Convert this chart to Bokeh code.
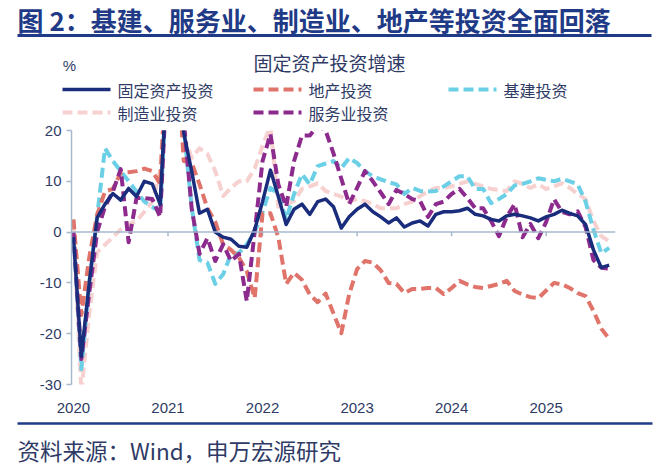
from bokeh.plotting import figure
from bokeh.layouts import column
from bokeh.models import Range1d, FixedTicker, Span
from bokeh.core.properties import value
from bokeh.embed import file_html
from bokeh.resources import INLINE

# Monthly YoY growth (%), Jan 2020 - Sep 2025
YEARS = ["2020", "2021", "2022", "2023", "2024", "2025"]
Y_TICKS = [-30, -20, -10, 0, 10, 20]

fai = [-1, -24.5, -10, 2.8, 5.5, 7.6, 6.3, 8.6, 7, 10, 9.5, 5.5,
       35, 35, 19.5, 12, 3.7, 4.5, 0, -1, -1.4, -2.8, -3, 0.5,
       6, 12.2, 7, 1.5, 4.5, 5.5, 3.5, 6, 6.5, 5, 0.8, 3,
       4.5, 5.5, 4, 3, 1.8, 2.8, 1, 1.8, 2.2, 1.2, 3.5, 4,
       4, 4.2, 4.7, 3.5, 3.2, 2.5, 2.2, 3.2, 3.5, 3.2, 2.8, 2.2,
       3, 3.5, 4.3, 3.7, 3.2, 1.5, -3.5, -7, -6.5]

real_estate = [2.5, -16.3, -5, 3.4, 8, 8.5, 11.7, 11.8, 12, 12.5, 12, 9.5,
               38.3, 38.3, 14, 13.7, 9.4, 4.7, 2, -2.4, -3.5, -5, -7.7, -13,
               3.7, 3.7, -1, -10.2, -8, -9.4, -12.3, -13.8, -12.1, -16, -19.9, -12.2,
               -7.3, -5.7, -6, -7.5, -10, -10.2, -12, -11.2, -11.2, -11, -11, -12.2,
               -11, -9.6, -10.3, -10.8, -11, -10.6, -10.2, -9.6, -11.6, -12.3, -12.8, -13,
               -11.5, -10, -10.3, -11, -12, -12.6, -15.5, -19, -21]

infra = [0, -27, -10, 3, 16.5, 14, 12, 10, 8, 6, 5, 4,
         35, 35, 20.5, 5, -5.5, -6, -10.2, -8.3, -4.3, -4.1, -2.4, 0,
         4, 8.7, 7.5, 2.5, 7.5, 11.4, 9.4, 13, 13.5, 14, 12.6, 14.6,
         13.6, 12, 11, 10.4, 9.8, 9.4, 7.5, 8.7, 8.1, 8, 8.1, 9,
         10, 11, 11, 8.5, 8.5, 5.7, 6.5, 7.5, 9.2, 9.5, 10, 10.6,
         10.3, 10, 10.5, 10, 9.4, 6, 0.5, -4.2, -3.1]

manufacturing = [1, -31.5, -16, -4, -2.5, -1, 0.5, 1.5, 2.2, 4, 6, 12,
                 36, 36, 19, 14.6, 16.5, 15.4, 12, 7.1, 8.7, 10, 10, 12.5,
                 17, 20.9, 5, 5.5, 6.1, 8.5, 9, 9.6, 8.1, 7.5, 7, 6,
                 6.5, 6.1, 5.5, 4.7, 4.7, 4.7, 5.5, 6, 7.1, 8, 8.7, 8.7,
                 9, 9.5, 10, 9.5, 9, 8.5, 8.3, 8.1, 10, 9.5, 8.7, 9.4,
                 8.5, 9, 9.6, 8.7, 7.5, 6.5, 2.2, -0.8, -1.8]

services = [0, -25, -12, 0, 5, 8, 12.4, -2, 6.7, 6.7, 6.5, 3,
            35, 35, 22, 4.7, -4.3, -1.2, -5.7, -2.4, -5.7, -4.3, -13.6, 0,
            14, 19.3, 9.4, 5, 14, 19, 19, 21, 20, 15.5, 10.5, 5.5,
            8.7, 12, 10, 7.8, 5.5, 8.3, 7.5, 6.5, 6.1, 3, 5.5, 6,
            7.5, 8.5, 6.7, 4.7, 4.7, 2.2, -0.8, 3, 5.5, -1, 1.6, -1.2,
            2, 6.5, 4, 3.5, 4.1, 1, -5.5, -7, -7.2]

SERIES = [  # (label, values, colour, width, dash)
    ("固定资产投资", fai, "#1A2C7C", 3.5, "solid"),
    ("地产投资", real_estate, "#E0736A", 4, "10 5"),
    ("基建投资", infra, "#6BCFE6", 4, "10 5"),
    ("制造业投资", manufacturing, "#F7D0D0", 4, "10 5"),
    ("服务业投资", services, "#8C2A8D", 4, "10 5"),
]
DRAW_ORDER = ["制造业投资", "基建投资", "地产投资", "服务业投资", "固定资产投资"]

months = list(range(len(fai)))
year_ticks = [12 * k for k in range(len(YEARS))]

AXIS = "#A7B9CC"
TEXT = "#2F3B66"
NAVY_TITLE = "#1F3A86"
CJK = "Noto Sans CJK SC"
W = 660


def blank(height):
    f = figure(width=W, height=height, output_backend="svg", toolbar_location=None,
               x_range=Range1d(0, W), y_range=Range1d(height, 0),
               x_axis_type=None, y_axis_type=None, min_border=0, frame_align=False)
    f.outline_line_color = None
    f.border_fill_color = "white"
    f.background_fill_color = "white"
    return f


# ---- header: figure title, rule, chart title, unit and key ----
head = blank(123)
head.text(x=[17], y=[19], text=["图 2：基建、服务业、制造业、地产等投资全面回落"],
          text_font=value(CJK), text_font_size="26px", text_font_style="bold",
          text_color=NAVY_TITLE, text_baseline="middle")
head.segment(x0=[17], y0=[35], x1=[651], y1=[35], line_color=NAVY_TITLE, line_width=3)
head.text(x=[329], y=[62], text=["固定资产投资增速"], text_font=value(CJK),
          text_font_size="19px", text_color=TEXT, text_align="center",
          text_baseline="middle")
head.text(x=[69], y=[65], text=["%"], text_font=value("Liberation Sans"),
          text_font_size="15px", text_color=TEXT, text_align="center",
          text_baseline="middle")

# key: three columns, two rows
KEY_COLS = [62, 253, 448]
KEY_ROWS = [89, 112]
for k, (name, _, col, w, d) in enumerate(SERIES):
    kx = KEY_COLS[k % 3]
    ky = KEY_ROWS[k // 3]
    head.segment(x0=[kx], y0=[ky], x1=[kx + 48], y1=[ky], line_color=col,
                 line_width=w, line_dash=d)
    head.text(x=[kx + 55], y=[ky], text=[name], text_font=value(CJK),
              text_font_size="16px", text_color=TEXT, text_baseline="middle")

# ---- chart ----
p = figure(width=W, height=295, output_backend="svg", toolbar_location=None,
           x_range=Range1d(-0.25, 68.8), y_range=Range1d(-30, 20),
           min_border_left=71, min_border_right=45,
           min_border_top=7, min_border_bottom=34, frame_align=False)
p.outline_line_color = None
p.xgrid.visible = False
p.ygrid.visible = False
p.border_fill_color = "white"

xa = p.xaxis[0]
xa.ticker = FixedTicker(ticks=year_ticks)
xa.major_label_overrides = {t: y for t, y in zip(year_ticks, YEARS)}
xa.axis_line_color = None
xa.major_tick_line_color = None
xa.minor_tick_line_color = None
xa.major_label_standoff = 12
xa.major_label_text_font = "Liberation Sans"
xa.major_label_text_font_size = "15px"
xa.major_label_text_color = TEXT

ya = p.yaxis[0]
ya.ticker = FixedTicker(ticks=Y_TICKS)
ya.major_label_overrides = {t: str(t) for t in Y_TICKS}
ya.axis_line_color = AXIS
ya.axis_line_width = 1.5
ya.major_tick_line_color = AXIS
ya.major_tick_line_width = 1.5
ya.major_tick_out = 5
ya.major_tick_in = 0
ya.minor_tick_line_color = None
ya.major_label_standoff = 5
ya.major_label_text_font = "Liberation Sans"
ya.major_label_text_font_size = "15px"
ya.major_label_text_color = TEXT

# zero line with small year ticks
p.add_layout(Span(location=0, dimension="width", line_color=AXIS, line_width=1.5))
p.segment(x0=year_ticks[1:], y0=[0] * 5, x1=year_ticks[1:], y1=[-0.8] * 5,
          line_color=AXIS, line_width=1.5)

style = {name: (vals, col, w, d) for name, vals, col, w, d in SERIES}
for name in DRAW_ORDER:
    vals, col, w, d = style[name]
    p.line(months, vals, line_color=col, line_width=w, line_dash=d,
           line_join="round")

# ---- footer: rule and source ----
foot = blank(57)
foot.segment(x0=[17], y0=[5], x1=[652], y1=[5], line_color=NAVY_TITLE, line_width=2.5)
foot.text(x=[17], y=[31], text=["资料来源：Wind，申万宏源研究"], text_font=value(CJK),
          text_font_size="22.5px", text_color=TEXT, text_baseline="middle")

layout = column(head, p, foot, spacing=0)
open("out.html", "w").write(file_html(layout, INLINE))
